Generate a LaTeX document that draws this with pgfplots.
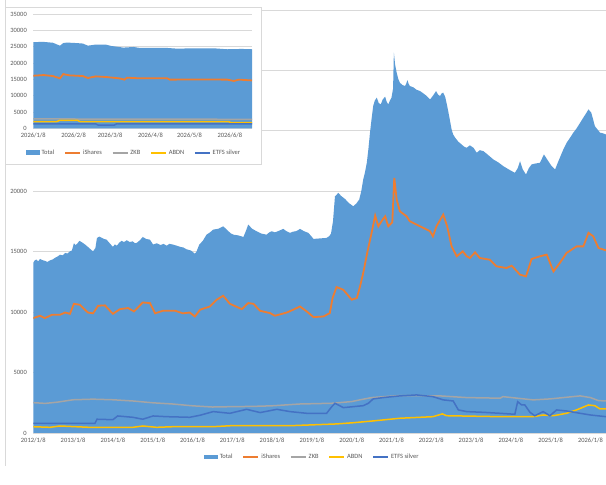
\documentclass[border=0pt]{standalone}
\usepackage{pgfplots}
\pgfplotsset{compat=1.18}
\usepackage{fontspec}
\setmainfont{Carlito}
\definecolor{tot}{HTML}{5B9BD5}
\definecolor{ish}{HTML}{ED7D31}
\definecolor{zkb}{HTML}{A5A5A5}
\definecolor{abdn}{HTML}{FFC000}
\definecolor{etfs}{HTML}{4472C4}
\definecolor{gridc}{HTML}{D9D9D9}
\definecolor{txt}{HTML}{595959}
\pgfplotsset{
 excel/.style={
  scale only axis,
  axis line style={draw=none},
  major tick length=0pt,
  ymin=0, ymax=35000, ytick={0,5000,...,35000},
  scaled y ticks=false,
  ymajorgrids, major grid style={gridc, line width=0.8bp},
  tick label style={font=\fontsize{6.5}{7}\selectfont, text=txt},
  /pgf/number format/assume math mode=true,
  /pgf/number format/1000 sep={},
  yticklabel style={xshift=-3bp},
  xticklabel style={yshift=-1.5bp},
  legend style={draw=none, fill=none, font=\fontsize{6.5}{7}\selectfont, text=txt,
    legend columns=5, /tikz/every even column/.append style={column sep=8bp},
    legend cell align=left, inner sep=0pt, anchor=center},
  legend image code/.code={\draw[#1] (0bp,0bp) -- (15bp,0bp);},
 },
 totleg/.style={legend image code/.code={\fill[tot] (0bp,-2bp) rectangle (14bp,2.5bp);}},
}
\begin{document}
\begin{tikzpicture}
\useasboundingbox (0,0) rectangle (606bp,485bp);
\clip (0,0) rectangle (606bp,485bp);
\fill[white] (0,0) rectangle (606bp,485bp);
\draw[gridc, line width=0.8bp] (5bp,19bp) -- (5bp,485bp);
\begin{axis}[excel,
  at={(33.3bp,52bp)}, anchor=south west,
  width=572.7bp, height=423bp,
  xmin=2012, xmax=2026.39,
  yticklabels={0,5000,10000,15000,20000,,,},
  xtick={2012,2013,...,2026},
  xticklabels={2012/1/8,2013/1/8,2014/1/8,2015/1/8,2016/1/8,2017/1/8,2018/1/8,2019/1/8,2020/1/8,2021/1/8,2022/1/8,2023/1/8,2024/1/8,2025/1/8,2026/1/8},
  legend style={at={(0.487,-0.057)}},
]
\addplot[fill=tot, draw=none, totleg] coordinates {
(2012.00,14100)(2012.04,14300)(2012.08,14350)(2012.12,14200)(2012.17,14400)(2012.23,14300)(2012.29,14250)(2012.35,14150)(2012.42,14280)(2012.48,14350)(2012.55,14500)
(2012.61,14600)(2012.67,14750)(2012.74,14700)(2012.80,14900)(2012.86,14850)(2012.92,15030)(2012.97,15100)(2013.02,15700)(2013.06,15550)(2013.10,15650)(2013.16,15900)(2013.22,15780)
(2013.30,15600)(2013.37,15400)(2013.44,15200)(2013.50,15030)(2013.56,15300)(2013.60,16140)(2013.66,16250)(2013.72,16150)(2013.78,16050)(2013.84,16000)(2013.92,15700)(2014.00,15400)
(2014.05,15600)(2014.10,15500)(2014.16,15750)(2014.22,15900)(2014.28,15800)(2014.35,15950)(2014.42,15800)(2014.50,15860)(2014.55,15700)(2014.60,15730)(2014.68,15950)(2014.75,16220)
(2014.84,16050)(2014.93,16000)(2014.97,15800)(2015.01,15590)(2015.10,15700)(2015.20,15550)(2015.27,15650)(2015.35,15500)(2015.42,15650)(2015.50,15600)(2015.60,15500)(2015.69,15400)
(2015.77,15350)(2015.85,15200)(2015.96,15100)(2016.06,14840)(2016.10,15000)(2016.17,15590)(2016.26,15900)(2016.35,16400)(2016.44,16600)(2016.52,16830)(2016.65,16900)(2016.77,17100)
(2016.84,16900)(2016.90,16700)(2016.97,16500)(2017.03,16410)(2017.15,16350)(2017.28,16220)(2017.34,16700)(2017.40,17240)(2017.50,16900)(2017.61,16690)(2017.73,16500)(2017.86,16410)
(2017.93,16600)(2017.99,16690)(2018.07,16600)(2018.15,16700)(2018.22,16800)(2018.28,16890)(2018.36,16700)(2018.45,16560)(2018.52,16650)(2018.60,16700)(2018.66,16800)(2018.70,16890)
(2018.80,16700)(2018.91,16560)(2018.98,16300)(2019.04,16060)(2019.20,16100)(2019.37,16140)(2019.44,16300)(2019.48,16500)(2019.53,17500)(2019.58,19590)(2019.62,19700)(2019.66,19870)
(2019.74,19600)(2019.83,19370)(2019.94,19000)(2020.04,18760)(2020.12,19000)(2020.19,19320)(2020.24,20000)(2020.29,20970)(2020.33,21500)(2020.38,22360)(2020.42,23500)(2020.46,24850)
(2020.50,26000)(2020.54,27050)(2020.58,27500)(2020.63,27750)(2020.68,27300)(2020.73,27190)(2020.78,27600)(2020.84,27830)(2020.88,27400)(2020.92,27190)(2020.96,27500)(2021.00,27750)
(2021.04,28500)(2021.06,31480)(2021.09,30500)(2021.13,29820)(2021.17,29300)(2021.21,28990)(2021.27,28800)(2021.34,28710)(2021.37,28900)(2021.40,29200)(2021.43,28900)
(2021.46,28710)(2021.55,28600)(2021.63,28400)(2021.72,28290)(2021.80,28100)(2021.88,27900)(2021.97,27600)(2022.04,27900)(2022.12,28290)(2022.17,28000)(2022.22,27880)(2022.26,28100)(2022.30,28160)
(2022.35,27800)(2022.40,27050)(2022.45,26200)(2022.51,25120)(2022.55,24700)(2022.60,24430)(2022.68,24100)(2022.76,23880)(2022.82,23700)(2022.89,23600)(2022.97,23800)(2023.06,23600)
(2023.10,23400)(2023.14,23190)(2023.22,23400)(2023.31,23320)(2023.43,23000)(2023.56,22630)(2023.68,22400)(2023.81,22080)(2023.95,21800)(2024.10,21530)(2024.17,21900)(2024.23,22490)
(2024.30,21800)(2024.38,21390)(2024.45,21900)(2024.52,22220)(2024.62,22300)(2024.73,22360)(2024.78,22700)(2024.83,23050)(2024.88,22800)(2024.94,22490)(2025.02,22100)(2025.11,21800)
(2025.17,22300)(2025.23,22770)(2025.31,23400)(2025.40,24010)(2025.48,24400)(2025.57,24850)(2025.65,25200)(2025.74,25670)(2025.84,26200)(2025.90,26500)(2025.95,26780)(2026.02,26500)
(2026.07,25900)(2026.11,25390)(2026.18,25100)(2026.24,24850)(2026.31,24800)(2026.39,24700)
} \closedcycle;
\addlegendentry{Total}
\addplot[ish, line width=1.8bp] coordinates {
(2012.00,9510)(2012.17,9700)(2012.29,9510)(2012.47,9780)(2012.67,9780)(2012.80,9970)
(2012.92,9860)(2013.02,10690)(2013.17,10610)(2013.37,9970)(2013.50,9900)(2013.63,10530)
(2013.80,10560)(2014.00,9860)(2014.18,10250)(2014.38,10340)(2014.53,10060)(2014.75,10800)
(2014.93,10750)(2015.06,9900)(2015.26,10120)(2015.56,10120)(2015.76,9900)(2015.93,9970)
(2016.06,9640)(2016.19,10200)(2016.44,10470)(2016.61,11030)(2016.77,11360)(2016.94,10690)
(2017.24,10250)(2017.40,10750)(2017.53,10690)(2017.70,10110)(2017.95,9920)(2018.07,9700)
(2018.37,9970)(2018.53,10200)(2018.70,10470)(2018.87,10060)(2019.04,9590)(2019.29,9640)
(2019.45,9920)(2019.52,11170)(2019.62,12080)(2019.79,11850)(2020.00,11030)(2020.13,11170)
(2020.21,12130)(2020.29,13240)(2020.39,14900)(2020.50,16560)(2020.59,17990)(2020.67,17100)
(2020.75,17520)(2020.84,17930)(2020.92,17100)(2021.02,17430)(2021.07,21110)(2021.13,19320)
(2021.21,18350)(2021.38,17930)(2021.46,17520)(2021.63,17240)(2021.80,16970)(2021.97,16690)
(2022.04,16270)(2022.13,17100)(2022.30,18070)(2022.40,17100)(2022.51,15440)(2022.64,14620)
(2022.79,15030)(2022.89,14620)(2022.97,14480)(2023.10,14950)(2023.22,14480)(2023.47,14340)
(2023.64,13790)(2023.89,13650)(2024.02,13840)(2024.23,13100)(2024.38,12960)(2024.52,14400)
(2024.73,14620)(2024.90,14760)(2025.07,13370)(2025.23,14070)(2025.40,14900)(2025.65,15440)
(2025.82,15440)(2025.95,16560)(2026.07,16270)(2026.20,15310)(2026.39,15110)
};
\addlegendentry{iShares}
\addplot[zkb, line width=1.5bp] coordinates {
(2012.00,2510)(2012.30,2450)(2012.60,2550)(2013.00,2750)(2013.50,2800)(2014.00,2750)
(2014.50,2650)(2015.00,2500)(2015.50,2400)(2016.00,2250)(2016.50,2150)(2017.00,2180)
(2017.50,2200)(2018.00,2250)(2018.70,2400)(2019.50,2460)(2020.00,2600)(2020.20,2740)
(2020.50,2930)(2021.21,3100)(2022.22,3070)(2022.89,2930)(2023.73,2880)(2023.80,3010)
(2024.02,2930)(2024.56,2740)(2024.98,2820)(2025.74,3070)(2026.00,2930)(2026.20,2680)
(2026.39,2650)
};
\addlegendentry{ZKB}
\addplot[abdn, line width=1.5bp] coordinates {
(2012.00,520)(2012.42,470)(2012.67,580)(2013.40,470)(2014.50,470)(2014.75,580)
(2015.10,470)(2015.50,520)(2016.50,520)(2017.00,610)(2018.50,610)(2019.62,750)
(2020.04,850)(2020.54,1000)(2021.21,1220)(2022.04,1350)(2022.28,1580)(2022.38,1430)
(2023.73,1350)(2024.56,1350)(2024.81,1490)(2025.07,1430)(2025.40,1630)(2025.65,1910)
(2025.95,2320)(2026.11,2260)(2026.24,1990)(2026.39,1990)
};
\addlegendentry{ABDN}
\addplot[etfs, line width=1.5bp] coordinates {
(2012.00,800)(2013.55,800)(2013.60,1140)(2014.00,1100)(2014.12,1410)(2014.50,1300)
(2014.75,1140)(2015.01,1410)(2015.35,1350)(2015.93,1300)(2016.19,1470)(2016.52,1770)
(2016.94,1630)(2017.36,1960)(2017.70,1690)(2018.12,1960)(2018.45,1770)(2018.87,1630)
(2019.37,1630)(2019.50,2180)(2019.58,2460)(2019.79,2100)(2020.04,2180)(2020.29,2260)
(2020.42,2460)(2020.54,2820)(2020.79,2930)(2021.21,3070)(2021.63,3150)(2022.04,3010)
(2022.30,2740)(2022.55,2650)(2022.68,1910)(2022.89,1770)(2023.31,1710)(2023.73,1630)
(2024.10,1550)(2024.17,2590)(2024.27,2320)(2024.35,2320)(2024.48,1710)(2024.60,1430)
(2024.81,1770)(2024.98,1430)(2025.15,1910)(2025.40,1820)(2025.74,1630)(2026.00,1490)
(2026.39,1350)
};
\addlegendentry{ETFS silver}
\end{axis}
\fill[white] (5bp,321bp) rectangle (261bp,478bp);
\draw[gridc, line width=0.8bp] (5bp,321bp) rectangle (261bp,478bp);
\begin{axis}[excel,
  at={(33.3bp,356.7bp)}, anchor=south west,
  width=218.7bp, height=114.3bp,
  xmin=0, xmax=168,
  yticklabels={0,5000,10000,15000,20000,25000,30000,35000},
  xtick={0,31,59,90,120,151},
  xticklabels={2026/1/8,2026/2/8,2026/3/8,2026/4/8,2026/5/8,2026/6/8},
  legend style={at={(0.46,-0.216)}},
]
\addplot[fill=tot, draw=none, totleg] coordinates {
(0,26400)(8,26450)(15,26200)(18,25700)(20.5,25300)(23,26100)(26,26250)(33,26100)
(38,25950)(42,25300)(48,25650)(56,25600)(60,25200)(66,24900)(69,24700)(77,24900)
(82,24600)(103,24600)(110,24400)(128,24500)(140,24450)(149,24200)(160,24300)(168,24200)
} \closedcycle;
\addlegendentry{Total}
\addplot[ish, line width=1.8bp] coordinates {
(0,16100)(8,16300)(15,16000)(20.5,15300)(23,16600)(28,16200)(38,16000)(42,15400)
(48,15900)(56,15700)(66,15300)(70,14900)(72,15500)(82,15300)(103,15300)(105,14900)
(128,14950)(149,14900)(154,14500)(158,14900)(168,14650)
};
\addlegendentry{iShares}
\addplot[zkb, line width=1.5bp] coordinates {
(0,2900)(30,2850)(60,2800)(100,2800)(168,2750)
};
\addlegendentry{ZKB}
\addplot[abdn, line width=1.5bp] coordinates {
(0,2050)(18,2050)(20,2400)(34,2400)(36,2050)(150,2050)(152,1700)(168,1700)
};
\addlegendentry{ABDN}
\addplot[etfs, line width=1.5bp] coordinates {
(0,1350)(48,1350)(50,950)(62,950)(64,1350)(168,1350)
};
\addlegendentry{ETFS silver}
\end{axis}
\end{tikzpicture}
\end{document}
